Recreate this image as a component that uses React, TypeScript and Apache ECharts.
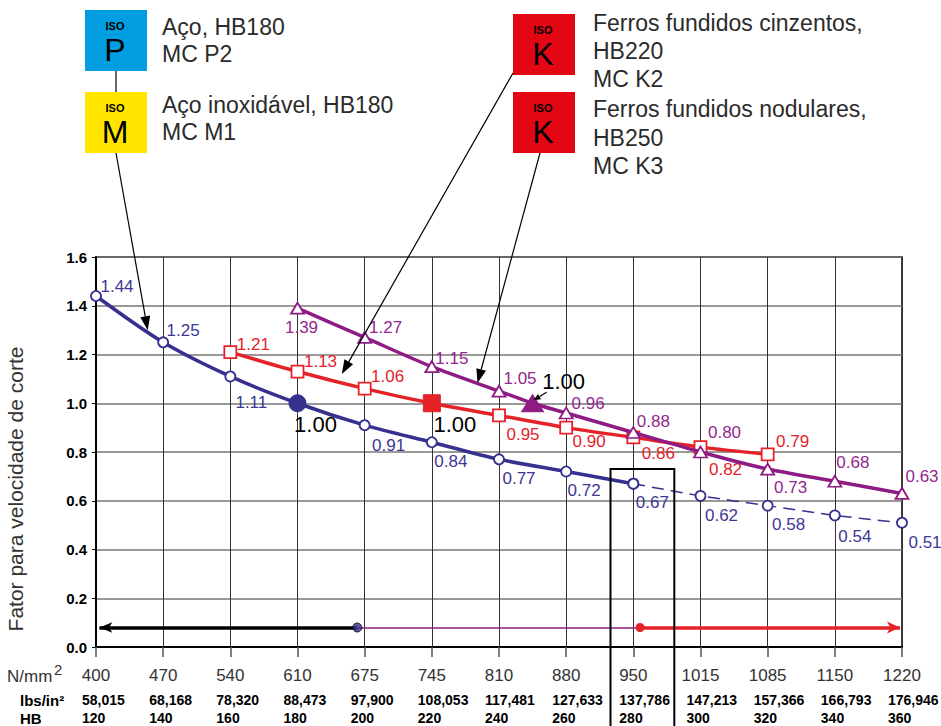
import React, { useEffect, useRef } from 'react';
import * as echarts from 'echarts';

// ---------- data ----------
const nmmLabels = ['400', '470', '540', '610', '675', '745', '810', '880', '950', '1015', '1085', '1150', '1220'];
const lbsLabels = ['58,015', '68,168', '78,320', '88,473', '97,900', '108,053', '117,481', '127,633', '137,786', '147,213', '157,366', '166,793', '176,946'];
const hbLabels = ['120', '140', '160', '180', '200', '220', '240', '260', '280', '300', '320', '340', '360'];

// steel / stainless (ISO P, M) – x = category index
const steelX = [0, 1, 2, 3, 4, 5, 6, 7, 8, 9, 10, 11, 12];
const steelValues = [1.44, 1.25, 1.11, 1.0, 0.91, 0.84, 0.77, 0.72, 0.67, 0.62, 0.58, 0.54, 0.51];
const steelRefIndex = 3;
const steelSolidEnd = 8;

// grey cast iron (ISO K, HB220)
const greyX = [2, 3, 4, 5, 6, 7, 8, 9, 10];
const greyValues = [1.21, 1.13, 1.06, 1.0, 0.95, 0.9, 0.86, 0.82, 0.79];
const greyRefIndex = 3;

// nodular cast iron (ISO K, HB250)
const nodularX = [3, 4, 5, 6, 6.5, 7, 8, 9, 10, 11, 12];
const nodularValues = [1.39, 1.27, 1.15, 1.05, 1.0, 0.96, 0.88, 0.8, 0.73, 0.68, 0.63];
const nodularRefIndex = 4;

// hardness ranges shown at the bottom (x in category index units)
const rangeLevel = 0.08;
const rangeSteelFrom = 3.89;
const rangeSteelTo = 0.05;
const rangeRedFrom = 8.1;
const rangeRedTo = 11.97;

// highlighted box
const boxFromX = 7.66;
const boxToX = 8.61;
const boxTop = 0.73;

// ---------- styles ----------
const FONT = '"Liberation Sans", Arial, Helvetica, sans-serif';
const NAVY = '#36308e';
const NAVY_TXT = '#3d3896';
const RED = '#e52228';
const PURPLE = '#8e1c84';
const PURPLE_TXT = '#93278f';

const steelLabelOffsets = [[21, -10], [20, -12], [21, 26], [18, 21], [24, 20], [19, 19], [20, 19], [18, 19], [19, 19], [21, 20], [21, 19], [20, 21], [23, 20]];
const greyLabelOffsets = [[23, -8], [23, -10], [23, -12], [23, 21], [24, 19], [23, 14], [25, 16], [25, 22], [25, -13]];
const nodularLabelOffsets = [[4, 19], [21, -10], [20, -8], [21, -13], [31, -22], [22, -10], [20, -11], [24, -20], [23, 18], [18, -19], [20, -17]];

function makeItems(xs: number[], vs: number[], refIdx: number, offsets: number[][], color: string, txtColor: string, symbol: string, size: any, refSize: any, from = 0, to = 999, labelFrom = 0) {
  const out: any[] = [];
  for (let i = from; i < Math.min(xs.length, to + 1); i++) {
    const isRef = i === refIdx;
    out.push({
      value: [xs[i], vs[i]],
      symbol,
      symbolSize: isRef ? refSize : size,
      itemStyle: isRef
        ? { color, borderColor: color, borderWidth: 1 }
        : { color: '#fff', borderColor: color, borderWidth: 1.8 },
      label: {
        show: i >= labelFrom,
        position: 'inside',
        offset: offsets[i],
        color: isRef ? '#000' : txtColor,
        fontSize: isRef ? 22 : 17,
        fontFamily: FONT,
        formatter: () => vs[i].toFixed(2),
      },
    });
  }
  return out;
}

function arrow(x1: number, y1: number, x2: number, y2: number, headLen = 14, headW = 5, width = 1.2) {
  const a = Math.atan2(y2 - y1, x2 - x1);
  const c = Math.cos(a), s = Math.sin(a);
  const bx = x2 - headLen * c, by = y2 - headLen * s;
  const nx = -s, ny = c;
  return [
    { type: 'line', silent: true, z: 100, shape: { x1, y1, x2: bx, y2: by }, style: { stroke: '#000', lineWidth: width } },
    { type: 'polygon', silent: true, z: 100, shape: { points: [[x2, y2], [bx + nx * headW, by + ny * headW], [bx - nx * headW, by - ny * headW]] }, style: { fill: '#000' } },
  ];
}

function isoBox(x: number, y: number, fill: string, letter: string) {
  return [
    { type: 'rect', silent: true, shape: { x, y, width: 62, height: 61 }, style: { fill } },
    { type: 'text', silent: true, x: x + 30, y: y + 16, style: { text: 'ISO', fontSize: 11, fontWeight: 'bold', fontFamily: FONT, fill: '#000', align: 'center', verticalAlign: 'middle' } },
    { type: 'text', silent: true, x: x + 30, y: y + 40, style: { text: letter, fontSize: 32, fontFamily: FONT, fill: '#000', align: 'center', verticalAlign: 'middle' } },
  ];
}

function label(x: number, y: number, text: string, size = 23, extra: any = {}) {
  return { type: 'text', silent: true, x, y, style: { text, fontSize: size, fontFamily: FONT, fill: '#2b2b2b', verticalAlign: 'middle', ...extra } };
}

export default function App() {
  const ref = useRef<HTMLDivElement>(null);
  useEffect(() => {
    document.body.style.margin = '0';
    const chart = echarts.init(ref.current!, undefined, { renderer: 'svg' });
    const option: any = {
      animation: false,
      backgroundColor: '#fff',
      grid: { left: 96, right: 39, top: 257, bottom: 79, show: true, borderColor: '#000', borderWidth: 1.5, containLabel: false, outerBoundsMode: 'none' },
      xAxis: [
        {
          type: 'value', min: 0, max: 12, interval: 1,
          axisLine: { show: true, lineStyle: { color: '#000', width: 2 } },
          axisTick: { show: false },
          axisLabel: { show: false },
          splitLine: { show: true, lineStyle: { color: '#333', width: 1 } },
        },
        {
          type: 'category', data: nmmLabels, boundaryGap: false, position: 'bottom',
          axisLine: { show: false },
          axisTick: { show: true, interval: 0, length: 10, lineStyle: { color: '#555', width: 1.5 } },
          splitLine: { show: false },
          axisLabel: {
            interval: 0,
            margin: 12,
            formatter: (_v: string, i: number) => `{a|${nmmLabels[i]}}\n{b|${lbsLabels[i]}}\n{b|${hbLabels[i]}}`,
            rich: {
              a: { fontSize: 17, color: '#333', fontFamily: FONT, lineHeight: 32 },
              b: { fontSize: 14, color: '#000', fontWeight: 'bold', fontFamily: FONT, lineHeight: 18, width: 50, align: 'left', padding: [0, 0, 0, 22] },
            },
          },
        },
      ],
      yAxis: {
        type: 'value', min: 0, max: 1.6, interval: 0.2,
        axisLine: { show: true, lineStyle: { color: '#000', width: 2 } },
        axisTick: { show: true, length: 4, lineStyle: { color: '#000' } },
        splitLine: { lineStyle: { color: '#777', width: 1.5 } },
        axisLabel: { formatter: (v: number) => v.toFixed(1), fontWeight: 'bold', fontSize: 15, color: '#000', fontFamily: FONT, margin: 9, showMinLabel: true, showMaxLabel: true },
      },
      series: [
        {
          type: 'line', smooth: 0.3, z: 3,
          lineStyle: { color: NAVY, width: 3.5 },
          data: makeItems(steelX, steelValues, steelRefIndex, steelLabelOffsets, NAVY, NAVY_TXT, 'circle', 10, 17, 0, steelSolidEnd),
        },
        {
          type: 'line', smooth: 0.3, z: 3,
          lineStyle: { color: NAVY, width: 1.5, type: [12, 7] },
          data: makeItems(steelX, steelValues, steelRefIndex, steelLabelOffsets, NAVY, NAVY_TXT, 'circle', 10, 17, steelSolidEnd, 999, steelSolidEnd + 1),
        },
        {
          type: 'line', smooth: 0.3, z: 4,
          lineStyle: { color: RED, width: 3.5 },
          data: makeItems(greyX, greyValues, greyRefIndex, greyLabelOffsets, RED, RED, 'rect', 12, 17),
        },
        {
          type: 'line', smooth: 0.3, z: 5,
          lineStyle: { color: PURPLE, width: 3.5 },
          data: makeItems(nodularX, nodularValues, nodularRefIndex, nodularLabelOffsets, PURPLE, PURPLE_TXT, 'triangle', [13, 11], [22, 17]),
        },
        {
          type: 'line', data: [], silent: true,
          markLine: {
            silent: true, animation: false, symbol: ['none', 'none'],
            label: { show: false },
            lineStyle: { color: PURPLE, width: 1.5, type: 'solid' },
            data: [[{ coord: [rangeSteelFrom, rangeLevel] }, { coord: [rangeRedFrom, rangeLevel] }]],
          },
        },
        {
          type: 'line', data: [], silent: true,
          markLine: {
            silent: true, animation: false, symbol: ['none', 'arrow'], symbolSize: [8, 13],
            label: { show: false },
            lineStyle: { color: '#000', width: 3.5, type: 'solid' },
            data: [[{ coord: [rangeSteelFrom, rangeLevel] }, { coord: [rangeSteelTo, rangeLevel] }]],
          },
        },
        {
          type: 'line', data: [], silent: true,
          markLine: {
            silent: true, animation: false, symbol: ['circle', 'arrow'], symbolSize: [9, 13],
            label: { show: false },
            lineStyle: { color: RED, width: 3.5, type: 'solid' },
            data: [[{ coord: [rangeRedFrom, rangeLevel] }, { coord: [rangeRedTo, rangeLevel] }]],
          },
        },
        {
          type: 'scatter', silent: true, z: 10,
          symbolSize: 9,
          itemStyle: { color: NAVY, borderColor: '#000', borderWidth: 1 },
          data: [[rangeSteelFrom, rangeLevel]],
        },
      ],
    };
    chart.setOption(option);

    const px = (x: number, y: number) => chart.convertToPixel({ xAxisIndex: 0, yAxisIndex: 0 }, [x, y]) as number[];
    const bTL = px(boxFromX, boxTop);
    const bTR = px(boxToX, boxTop);
    const steelTip = px(0.77, 1.3);
    const greyTip = px(3.66, 1.12);
    const nodTip = px(5.68, 1.083);
    const nodRef = px(nodularX[nodularRefIndex], nodularValues[nodularRefIndex]);

    const graphic: any[] = [
      { type: 'rect', silent: true, z: 50, shape: { x: bTL[0], y: bTL[1], width: bTR[0] - bTL[0], height: 740 - bTL[1] }, style: { fill: 'none', stroke: '#000', lineWidth: 2 } },
      // legend boxes
      { type: 'line', silent: true, shape: { x1: 116, y1: 70, x2: 116, y2: 92 }, style: { stroke: '#000', lineWidth: 1.2 } },
      ...isoBox(85, 10, '#009ee0', 'P'),
      ...isoBox(85, 92, '#ffe500', 'M'),
      ...isoBox(513, 14, '#e30613', 'K'),
      ...isoBox(513, 92, '#e30613', 'K'),
      label(162, 27, 'Aço, HB180'),
      label(162, 54, 'MC P2'),
      label(162, 105, 'Aço inoxidável, HB180'),
      label(162, 132, 'MC M1'),
      label(593, 23, 'Ferros fundidos cinzentos,'),
      label(593, 51, 'HB220'),
      label(593, 79, 'MC K2'),
      label(593, 109, 'Ferros fundidos nodulares,'),
      label(593, 138, 'HB250'),
      label(593, 166, 'MC K3'),
      // callout arrows
      ...arrow(116, 153, steelTip[0], steelTip[1]),
      ...arrow(513, 73, greyTip[0], greyTip[1]),
      ...arrow(540, 153, nodTip[0], nodTip[1]),
      ...arrow(nodRef[0] + 14, nodRef[1] - 11, nodRef[0] + 1, nodRef[1] - 3, 7, 3, 1.2),
      // axis captions
      label(7, 676, 'N/mm', 17, { fill: '#333' }),
      label(54, 669, '2', 15, { fill: '#333' }),
      label(20, 700, 'lbs/in²', 15, { fill: '#000', fontWeight: 'bold' }),
      label(20, 718, 'HB', 15, { fill: '#000', fontWeight: 'bold' }),
      { type: 'text', silent: true, x: 15, y: 489, rotation: Math.PI / 2, style: { text: 'Fator para velocidade de corte', fontSize: 21, fontFamily: FONT, fill: '#333', align: 'center', verticalAlign: 'middle' } },
    ];
    chart.setOption({ graphic });
    return () => chart.dispose();
  }, []);
  return <div ref={ref} style={{ width: 941, height: 726 }} />;
}
